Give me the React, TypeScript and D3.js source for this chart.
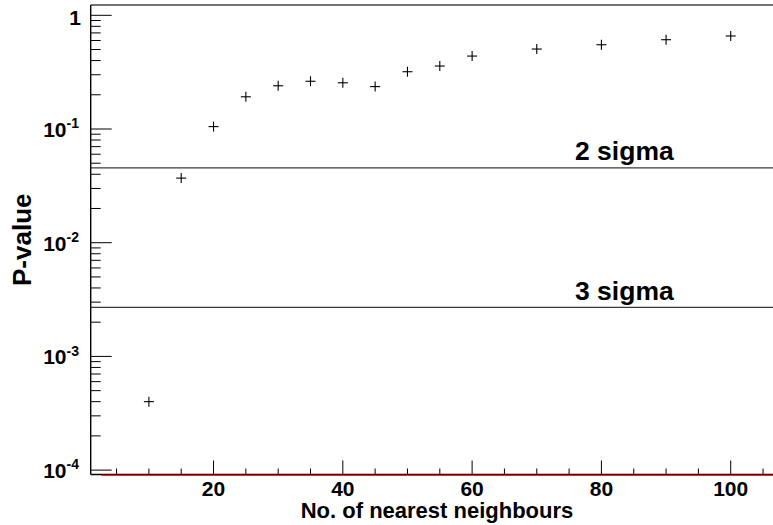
import React from "react";
import * as d3 from "d3";

// Number of nearest neighbours used in the test
const neighbours = [10, 15, 20, 25, 30, 35, 40, 45, 50, 55, 60, 70, 80, 90, 100];
// Resulting p-values
const pValues = [4.0e-4, 0.037, 0.105, 0.192, 0.24, 0.263, 0.255, 0.236, 0.319, 0.358, 0.438, 0.505, 0.551, 0.61, 0.658];

// Significance reference levels
const sigmaLabels = ["2 sigma", "3 sigma"];
const sigmaLevels = [0.0455, 0.0027];

// Axis ranges and ticks
const xDomain = [1, 109];
const yDomain = [9.15e-5, 1.232];
const xMajorTicks = [20, 40, 60, 80, 100];
const xMinorTicks = [5, 10, 15, 25, 30, 35, 45, 50, 55, 65, 70, 75, 85, 90, 95, 105];
const yDecades = [0, -1, -2, -3, -4];
const zeroLineFrom = 2.6;

const W = 773;
const H = 525;
const M = { left: 90.7, right: 788.9, top: 5, bottom: 474.5 };
const FONT = "'Liberation Sans', Arial, Helvetica, sans-serif";

export default function App() {
  const x = d3.scaleLinear().domain(xDomain).range([M.left, M.right]);
  const y = d3.scaleLog().domain(yDomain).range([M.bottom, M.top]);

  const yMinor: number[] = [];
  for (let d = -5; d <= 0; d++) {
    for (let k = 2; k <= 9; k++) {
      const v = k * Math.pow(10, d);
      if (v > yDomain[0] && v < yDomain[1]) yMinor.push(v);
    }
  }

  const cross = 5;

  return (
    <svg
      width={W}
      height={H}
      style={{ position: "absolute", left: 0, top: 0, background: "#fff" }}
      fontFamily={FONT}
    >
      <rect x={0} y={0} width={W} height={H} fill="#fff" />

      {/* sigma reference lines */}
      {sigmaLevels.map((s, i) => (
        <g key={sigmaLabels[i]}>
          <line x1={M.left} x2={M.right} y1={y(s)} y2={y(s)} stroke="#3a3a3a" strokeWidth={1.4} />
          <text x={575} y={y(s) - 7.5} fontSize={26.5} fontWeight="bold" fill="#000">
            {sigmaLabels[i]}
          </text>
        </g>
      ))}

      {/* frame */}
      <line x1={M.left} x2={M.right} y1={M.top} y2={M.top} stroke="#444" strokeWidth={1.3} />
      <line x1={M.left} x2={M.left} y1={M.top} y2={M.bottom} stroke="#000" strokeWidth={1.4} />
      <line x1={M.left} x2={M.right} y1={M.bottom} y2={M.bottom} stroke="#000" strokeWidth={1.4} />
      <line x1={x(zeroLineFrom)} x2={M.right} y1={M.bottom + 0.7} y2={M.bottom + 0.7} stroke="#d00000" strokeWidth={1.2} />

      {/* y ticks */}
      {yDecades.map((d) => {
        const yy = y(Math.pow(10, d));
        return <line key={"ym" + d} x1={M.left} x2={M.left + 21} y1={yy} y2={yy} stroke="#000" strokeWidth={1} />;
      })}
      {yMinor.map((v) => (
        <line key={"yn" + v} x1={M.left} x2={M.left + 10} y1={y(v)} y2={y(v)} stroke="#000" strokeWidth={1} />
      ))}

      {/* y labels */}
      {yDecades.map((d) => {
        const yy = y(Math.pow(10, d));
        if (d === 0) {
          return (
            <text key={"yl" + d} x={81} y={yy + 9.6} textAnchor="end" fontSize={21} fontWeight="bold">
              1
            </text>
          );
        }
        return (
          <text key={"yl" + d} x={79} y={yy + 7.8} textAnchor="end" fontSize={21} fontWeight="bold">
            10
            <tspan fontSize={14} dy={-8.5}>
              {"-" + -d}
            </tspan>
          </text>
        );
      })}

      {/* x ticks */}
      {xMajorTicks.map((t) => (
        <line key={"xm" + t} x1={x(t)} x2={x(t)} y1={M.bottom} y2={M.bottom - 14} stroke="#000" strokeWidth={1} />
      ))}
      {xMinorTicks.map((t) => (
        <line key={"xn" + t} x1={x(t)} x2={x(t)} y1={M.bottom} y2={M.bottom - 6} stroke="#000" strokeWidth={1} />
      ))}
      {xMajorTicks.map((t) => (
        <text key={"xl" + t} x={x(t)} y={496} textAnchor="middle" fontSize={21} fontWeight="bold">
          {t}
        </text>
      ))}

      {/* axis titles */}
      <text x={437} y={518} textAnchor="middle" fontSize={22} fontWeight="bold">
        No. of nearest neighbours
      </text>
      <text
        transform={`translate(31, ${(M.top + M.bottom) / 2}) rotate(-90)`}
        textAnchor="middle"
        fontSize={26}
        fontWeight="bold"
      >
        P-value
      </text>

      {/* data markers */}
      {neighbours.map((n, i) => {
        const cx = x(n);
        const cy = y(pValues[i]);
        return (
          <g key={"p" + n} stroke="#000" strokeWidth={1.1}>
            <line x1={cx - cross} x2={cx + cross} y1={cy} y2={cy} />
            <line x1={cx} x2={cx} y1={cy - cross} y2={cy + cross} />
          </g>
        );
      })}
    </svg>
  );
}
